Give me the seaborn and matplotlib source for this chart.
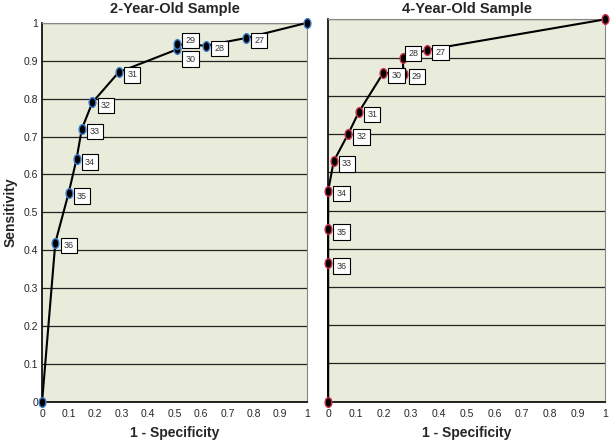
import numpy as np
import pandas as pd
import matplotlib
matplotlib.use("Agg")
import matplotlib.pyplot as plt
from matplotlib.path import Path
import seaborn as sns

# ROC points, ordered along the curve (cut-off scores 36 -> 27)
labels_2yr = ["", "36", "35", "34", "33", "32", "31", "30", "29", "28", "27", ""]
fpr_2yr = [0.0, 0.05, 0.10, 0.13, 0.15, 0.19, 0.29, 0.51, 0.51, 0.62, 0.77, 1.0]
sens_2yr = [0.0, 0.42, 0.55, 0.64, 0.72, 0.79, 0.87, 0.93, 0.943, 0.94, 0.96, 1.0]

labels_4yr = ["", "36", "35", "34", "33", "32", "31", "30", "29", "28", "27", ""]
fpr_4yr = [0.0, 0.0, 0.0, 0.0, 0.02, 0.072, 0.111, 0.199, 0.272, 0.269, 0.358, 1.0]
sens_4yr = [0.0, 0.362, 0.451, 0.552, 0.629, 0.70, 0.758, 0.86, 0.858, 0.90, 0.92, 1.0]

# label box offsets (points) for the few that sit off the usual spot
offsets_2yr = {"29": (6, 3), "30": (6, -7)}
offsets_4yr = {"28": (4, 3)}

sns.set_theme(style="white")
plt.rcParams["font.family"] = ["Liberation Sans", "DejaVu Sans"]

bg = "#E9ECDA"
ellipse = Path.unit_circle().transformed(matplotlib.transforms.Affine2D().scale(0.7, 1.0))

fig = plt.figure(figsize=(6.1, 4.4), dpi=100)
ax1 = fig.add_axes([0.069, 0.087, 0.434, 0.861])
ax2 = fig.add_axes([0.538, 0.087, 0.454, 0.869])


def draw(ax, fpr, sens, labels, edge, offsets, title, show_y):
    df = pd.DataFrame({"fpr": fpr, "sens": sens})
    ax.set_facecolor(bg)
    sns.lineplot(data=df, x="fpr", y="sens", ax=ax, sort=False, estimator=None,
                 color="black", lw=1.5, marker=ellipse, markersize=7,
                 markerfacecolor="black", markeredgecolor=edge,
                 markeredgewidth=1.0, clip_on=False, zorder=4)
    for x, y, lab in zip(fpr, sens, labels):
        if not lab:
            continue
        dx, dy = offsets.get(lab, (6, -2))
        ax.annotate(lab, (x, y), xytext=(dx, dy), textcoords="offset points",
                    ha="left", va="center", fontsize=6.5, color="#333333",
                    bbox=dict(boxstyle="square,pad=0.35", fc="white",
                              ec="black", lw=0.8), zorder=5)
    ax.set_xlim(0, 1)
    ax.set_ylim(0, 1)
    ax.set_xticks(np.arange(0, 1.01, 0.1))
    ax.set_xticklabels(["0", "0.1", "0.2", "0.3", "0.4", "0.5",
                        "0.6", "0.7", "0.8", "0.9", "1"])
    ax.set_yticks(np.arange(0, 1.01, 0.1))
    if show_y:
        ax.set_yticklabels(["0", "0.1", "0.2", "0.3", "0.4", "0.5",
                            "0.6", "0.7", "0.8", "0.9", "1"])
        ax.set_ylabel("Sensitivity", fontsize=10, fontweight="bold", labelpad=4)
    else:
        ax.set_yticklabels([])
        ax.set_ylabel("")
    ax.yaxis.grid(True, color="#222222", lw=0.9)
    ax.xaxis.grid(False)
    ax.tick_params(axis="x", direction="out", length=3, width=0.8,
                   labelsize=7.5, pad=2, color="#555555")
    ax.tick_params(axis="y", length=0, labelsize=7.5, pad=3)
    ax.set_xlabel("1 - Specificity", fontsize=10, fontweight="bold", labelpad=5)
    # titles sit at the same height above both panels
    bbox = ax.get_position()
    fig.text((bbox.x0 + bbox.x1) / 2, 1 - 9 / 440, title, ha="center",
             va="center", fontsize=10.5, fontweight="bold")
    for side in ["top", "right"]:
        ax.spines[side].set_color("#888888")
        ax.spines[side].set_linewidth(0.8)
    for side in ["left", "bottom"]:
        ax.spines[side].set_color("black")
        ax.spines[side].set_linewidth(1.2)


draw(ax1, fpr_2yr, sens_2yr, labels_2yr, "#3A7FD0", offsets_2yr,
     "2-Year-Old Sample", True)
draw(ax2, fpr_4yr, sens_4yr, labels_4yr, "#D03050", offsets_4yr,
     "4-Year-Old Sample", False)

fig.savefig("out.png", dpi=100, facecolor="white")
